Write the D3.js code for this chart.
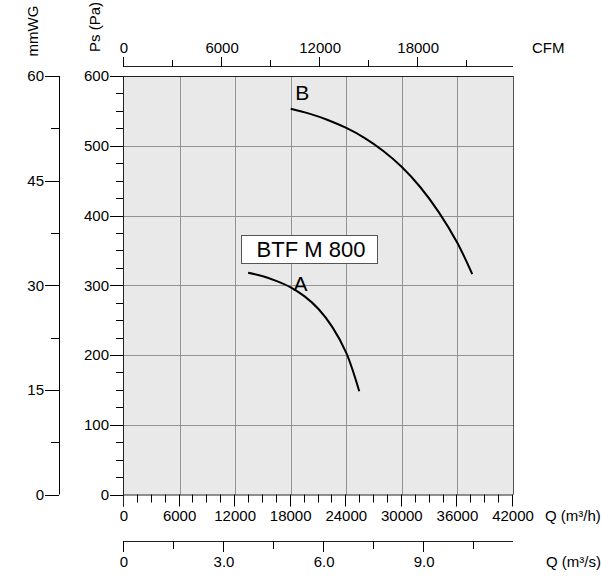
<!DOCTYPE html>
<html>
<head>
<meta charset="utf-8">
<script src="https://cdn.jsdelivr.net/npm/d3@7"></script>
<style>
  html, body { margin: 0; padding: 0; background: #fff; }
  svg { display: block; font-family: Arial, "Liberation Sans", sans-serif; }
</style>
</head>
<body>
<svg id="chart" width="601" height="578"></svg>
<script>
// ---------------- data ----------------
const curveA = [[13400,318],[15000,313],[16500,306],[18000,297],[19500,284],[21000,266],[22500,240],[24000,203],[25400,148]];
const curveB = [[18000,553],[20000,546],[22000,537],[24000,525.5],[26000,511],[28000,492.5],[30000,469.5],[32000,440.5],[34000,404.5],[36000,360.5],[37600,316]];
const curveLabels = [{name:"A", q:18300, p:292}, {name:"B", q:18500, p:566}];
const modelName = "BTF M 800";
const qhTicks = [0,6000,12000,18000,24000,30000,36000,42000];
const qhMinor = d3.range(0, 42001, 1500);
const psTicks = [0,100,200,300,400,500,600];
const psMinor = d3.range(0, 601, 25);
const mmTicks = [0,15,30,45,60];
const mmMinor = d3.range(0, 61, 7.5);
const cfmTicks = [0,6000,12000,18000];
const cfmMinor = [3000,9000,15000,21000];
const qsTicks = [0,3,6,9];
const qsMinor = [1.5,4.5,7.5,10.5];

// ---------------- layout ----------------
const X0 = 124, X1 = 513, Y0 = 494.5, Y1 = 76;
const svg = d3.select("#chart");

const x = d3.scaleLinear().domain([0,42000]).range([X0,X1]);
const y = d3.scaleLinear().domain([0,600]).range([Y0,Y1]);
const yMm = d3.scaleLinear().domain([0,60]).range([Y0,Y1]);
const xCfm = d3.scaleLinear().domain([0,23800]).range([X0,X1]);
const xQs = d3.scaleLinear().domain([0,42000/3600]).range([X0,X1]);

// plot background
svg.append("rect").attr("x",X0).attr("y",Y1).attr("width",X1-X0).attr("height",Y0-Y1)
  .attr("fill","#e9e9e9");

// grid
const grid = svg.append("g").attr("stroke","#929292").attr("stroke-width",1);
qhTicks.filter(d=>d>0 && d<42000).forEach(d=>{
  grid.append("line").attr("x1",Math.round(x(d))+0.5).attr("x2",Math.round(x(d))+0.5).attr("y1",Y1).attr("y2",Y0);
});
psTicks.filter(d=>d>0 && d<600).forEach(d=>{
  grid.append("line").attr("y1",Math.round(y(d))+0.5).attr("y2",Math.round(y(d))+0.5).attr("x1",X0).attr("x2",X1);
});

// border
svg.append("line").attr("x1",X0).attr("x2",X1).attr("y1",Y1+0.5).attr("y2",Y1+0.5).attr("stroke","#222");
svg.append("line").attr("x1",X1+0.5).attr("x2",X1+0.5).attr("y1",Y1).attr("y2",Y0).attr("stroke","#555");

const fs = 15;
const tickFmt = d=>String(d);

// ---- bottom Q (m3/h) axis ----
const gB = svg.append("g").attr("transform",`translate(0,${Y0})`);
gB.append("line").attr("x1",X0-1).attr("x2",X1).attr("y1",0.5).attr("y2",0.5).attr("stroke","#222");
qhMinor.forEach(d=>{
  const major = d % 6000 === 0;
  gB.append("line").attr("x1",Math.round(x(d))-0.5).attr("x2",Math.round(x(d))-0.5)
    .attr("y1",0).attr("y2",major?12:8).attr("stroke","#000");
});
gB.selectAll("text.t").data(qhTicks).join("text").attr("class","t")
  .attr("x",d=>x(d)).attr("y",26).attr("text-anchor","middle").attr("font-size",fs).text(tickFmt);
svg.append("text").attr("x",545).attr("y",Y0+26).attr("font-size",fs).text("Q (m³/h)");

// ---- Q (m3/s) axis ----
const gS = svg.append("g").attr("transform","translate(0,541)");
gS.append("line").attr("x1",X0-0.5).attr("x2",X1).attr("y1",0.5).attr("y2",0.5).attr("stroke","#222");
qsTicks.forEach(d=>gS.append("line").attr("x1",Math.round(xQs(d))-0.5).attr("x2",Math.round(xQs(d))-0.5).attr("y1",0).attr("y2",11).attr("stroke","#000"));
qsMinor.forEach(d=>gS.append("line").attr("x1",Math.round(xQs(d))-0.5).attr("x2",Math.round(xQs(d))-0.5).attr("y1",0).attr("y2",8).attr("stroke","#000"));
gS.selectAll("text.t").data(qsTicks).join("text").attr("class","t")
  .attr("x",d=>xQs(d)).attr("y",26).attr("text-anchor","middle").attr("font-size",fs)
  .text(d=>d===0?"0":d3.format(".1f")(d));
svg.append("text").attr("x",546).attr("y",567).attr("font-size",fs).text("Q (m³/s)");

// ---- top CFM axis ----
const gT = svg.append("g").attr("transform","translate(0,67)");
gT.append("line").attr("x1",X0-0.5).attr("x2",X1).attr("y1",-0.5).attr("y2",-0.5).attr("stroke","#222");
cfmTicks.forEach(d=>gT.append("line").attr("x1",Math.round(xCfm(d))-0.5).attr("x2",Math.round(xCfm(d))-0.5).attr("y1",0).attr("y2",-10).attr("stroke","#000"));
cfmMinor.forEach(d=>gT.append("line").attr("x1",Math.round(xCfm(d))-0.5).attr("x2",Math.round(xCfm(d))-0.5).attr("y1",0).attr("y2",-7).attr("stroke","#000"));
gT.selectAll("text.t").data(cfmTicks).join("text").attr("class","t")
  .attr("x",d=>xCfm(d)).attr("y",-14).attr("text-anchor","middle").attr("font-size",fs).text(tickFmt);
svg.append("text").attr("x",532).attr("y",53).attr("font-size",fs).text("CFM");

// ---- left Ps axis ----
const gL = svg.append("g").attr("transform","translate(123,0)");
gL.append("line").attr("x1",0.5).attr("x2",0.5).attr("y1",Y1).attr("y2",Y0+12).attr("stroke","#222");
psMinor.forEach(d=>{
  const major = d % 100 === 0;
  gL.append("line").attr("x1",major?-13:-7).attr("x2",0).attr("y1",Math.round(y(d))+0.5).attr("y2",Math.round(y(d))+0.5).attr("stroke","#000");
});
gL.selectAll("text.t").data(psTicks).join("text").attr("class","t")
  .attr("x",-14).attr("y",d=>y(d)).attr("dy","0.35em").attr("text-anchor","end").attr("font-size",fs).text(tickFmt);
svg.append("text").attr("transform","translate(100,27) rotate(-90)").attr("text-anchor","middle").attr("font-size",fs).text("Ps (Pa)");

// ---- left mmWG axis ----
const gM = svg.append("g").attr("transform","translate(59,0)");
gM.append("line").attr("x1",0.5).attr("x2",0.5).attr("y1",Y1).attr("y2",Y0).attr("stroke","#000");
mmMinor.forEach(d=>{
  const major = d % 15 === 0;
  gM.append("line").attr("x1",major?-14:-8).attr("x2",0).attr("y1",Math.round(yMm(d))+0.5).attr("y2",Math.round(yMm(d))+0.5).attr("stroke","#000");
});
gM.selectAll("text.t").data(mmTicks).join("text").attr("class","t")
  .attr("x",-15).attr("y",d=>yMm(d)).attr("dy","0.35em").attr("text-anchor","end").attr("font-size",fs).text(tickFmt);
svg.append("text").attr("transform","translate(38,31) rotate(-90)").attr("text-anchor","middle").attr("font-size",fs).text("mmWG");

// ---- curves ----
const line = d3.line().x(d=>x(d[0])).y(d=>y(d[1])).curve(d3.curveCatmullRom);
[curveA, curveB].forEach(c=>{
  svg.append("path").attr("d",line(c)).attr("fill","none").attr("stroke","#000").attr("stroke-width",2);
});
curveLabels.forEach(l=>{
  svg.append("text").attr("x",x(l.q)).attr("y",y(l.p)).attr("font-size",21).text(l.name);
});

// ---- model label ----
svg.append("rect").attr("x",241.5).attr("y",235.5).attr("width",136).attr("height",28)
  .attr("fill","#fff").attr("stroke","#555");
svg.append("text").attr("x",311).attr("y",257).attr("text-anchor","middle").attr("font-size",22).text(modelName);
</script>
</body>
</html>
